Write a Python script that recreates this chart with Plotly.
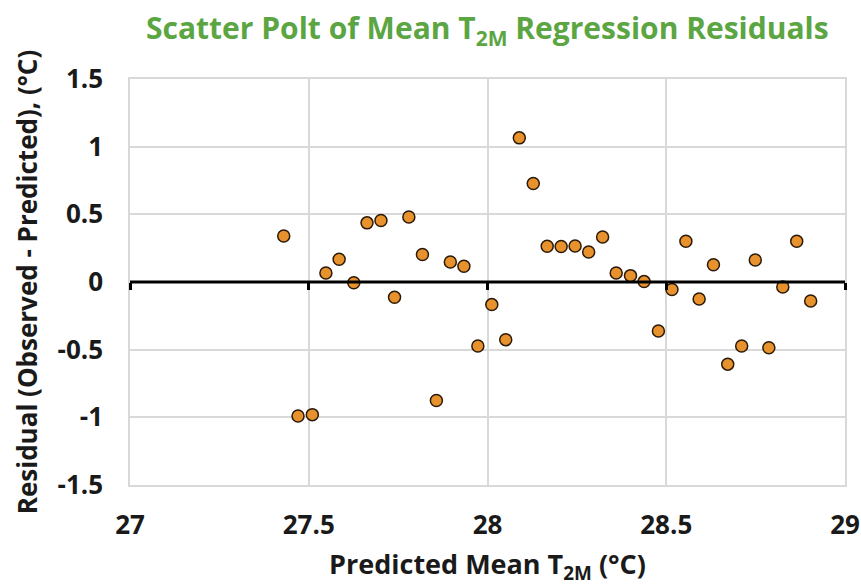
import plotly.graph_objects as go

# predicted mean T2M (deg C) and residuals
predicted = [
    27.43, 27.47, 27.51, 27.548, 27.585, 27.626, 27.663, 27.702, 27.740, 27.78,
    27.818, 27.857, 27.896, 27.934, 27.973, 28.012, 28.051, 28.089, 28.128, 28.167,
    28.206, 28.245, 28.283, 28.322, 28.360, 28.40, 28.438, 28.478, 28.516, 28.555,
    28.592, 28.632, 28.672, 28.711, 28.749, 28.787, 28.826, 28.865, 28.904,
]
residual = [
    0.34, -0.99, -0.98, 0.067, 0.168, -0.005, 0.437, 0.454, -0.113, 0.48,
    0.203, -0.875, 0.148, 0.116, -0.473, -0.167, -0.426, 1.065, 0.728, 0.264,
    0.262, 0.266, 0.222, 0.333, 0.067, 0.047, 0.003, -0.362, -0.056, 0.301,
    -0.126, 0.128, -0.607, -0.473, 0.163, -0.486, -0.037, 0.301, -0.140,
]
x_ticks = [27, 27.5, 28, 28.5, 29]
x_labels = ["27", "27.5", "28", "28.5", "29"]
y_ticks = [1.5, 1, 0.5, 0, -0.5, -1, -1.5]
y_labels = ["1.5", "1", "0.5", "0", "-0.5", "-1", "-1.5"]

FONT = "Open Sans"
GRID = "#D9D9D9"
INK = "#1A1A1A"

fig = go.Figure()
fig.add_trace(go.Scatter(
    x=predicted,
    y=residual,
    mode="markers",
    marker=dict(size=12, color="#E8922E", line=dict(color="#2B1A08", width=1.5)),
    showlegend=False,
))

# horizontal axis line crossing at y=0 (Excel style), drawn on a second x axis
fig.add_trace(go.Scatter(x=[27, 29], y=[0, 0], xaxis="x2", mode="lines",
                         line=dict(color="black", width=3), showlegend=False,
                         hoverinfo="skip"))

fig.update_layout(
    width=861,
    height=588,
    margin=dict(l=130, r=16, t=79, b=103),
    plot_bgcolor="white",
    paper_bgcolor="white",
    font=dict(family=FONT, color=INK),
    title=dict(
        text="<b>Scatter Polt of Mean T<sub>2M</sub> Regression Residuals</b>",
        font=dict(size=30, color="#5BA543", family=FONT),
        x=0.566, xanchor="center", y=0.951, yanchor="middle",
    ),
    xaxis=dict(
        range=[27, 29],
        tickvals=x_ticks,
        ticktext=["<b>%s</b>" % t for t in x_labels],
        tickfont=dict(size=26, color=INK),
        showgrid=True, gridcolor=GRID, gridwidth=1.5,
        zeroline=False,
        showline=True, linecolor=GRID, linewidth=1.5, mirror=True,
        ticks="", ticklabelstandoff=16, automargin=False,
        title=dict(text="<b>Predicted Mean T<sub>2M</sub> (°C)</b>",
                   font=dict(size=27, color=INK), standoff=14),
    ),
    xaxis2=dict(
        range=[27, 29],
        overlaying="x",
        anchor="free",
        position=0.5,
        side="bottom",
        tickvals=x_ticks,
        showticklabels=False,
        ticks="outside", ticklen=7, tickwidth=3, tickcolor="black",
        showgrid=False, zeroline=False,
        showline=False,
    ),
    yaxis=dict(
        range=[-1.5, 1.5],
        tickvals=y_ticks,
        ticktext=["<b>%s</b>" % t for t in y_labels],
        tickfont=dict(size=26, color=INK),
        showgrid=True, gridcolor=GRID, gridwidth=1.5,
        zeroline=False,
        showline=True, linecolor=GRID, linewidth=1.5, mirror=True,
        ticks="", ticklabelstandoff=20, automargin=False,
        title=dict(text="<b>Residual (Observed - Predicted), (°C)</b>",
                   font=dict(size=26, color=INK), standoff=12),
    ),
)

# the page body has a default 8px margin; drop it so the figure sits at 0,0
fig.write_html("out.html", config={"displayModeBar": False},
               post_script="document.body.style.margin='0';")
